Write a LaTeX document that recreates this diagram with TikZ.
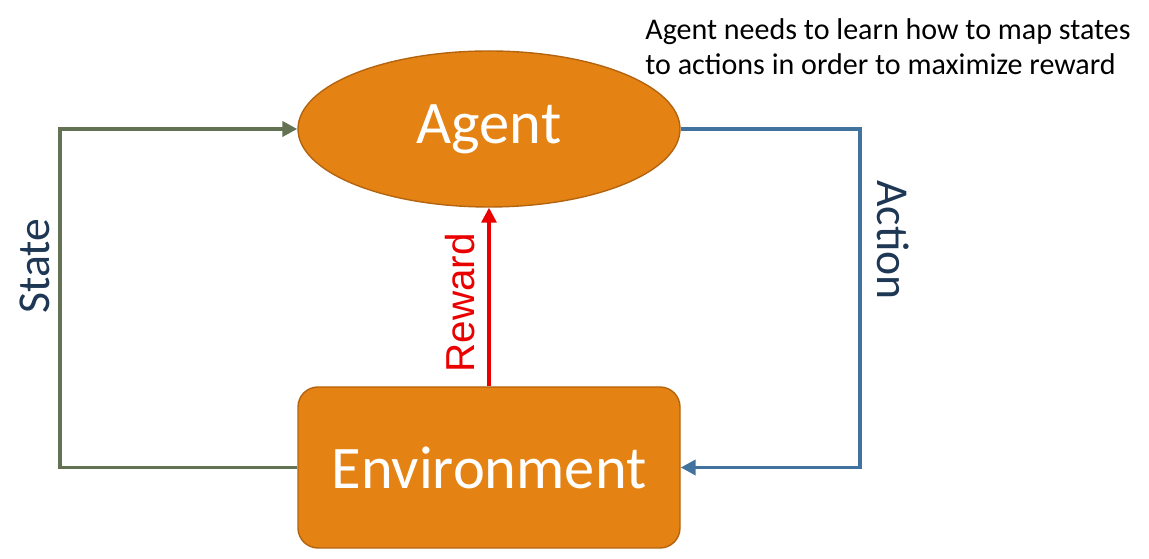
\documentclass[tikz,border=0pt]{standalone}
\usepackage{fontspec}
\setmainfont{Carlito}
\newfontfamily\arialfont{Liberation Sans}
\usepackage{xcolor}
\definecolor{boxorange}{RGB}{228,131,20}
\definecolor{edgeorange}{RGB}{180,100,15}
\definecolor{stategreen}{RGB}{99,114,82}
\definecolor{actionblue}{RGB}{66,114,158}
\definecolor{labelnavy}{RGB}{30,55,85}
\definecolor{rewardred}{RGB}{235,0,0}
\usetikzlibrary{shapes,arrows.meta,positioning,calc}

\begin{document}
\begin{tikzpicture}[
  bigtext/.style={font=\fontsize{34.4}{40}\selectfont, text=white},
  side/.style={font=\fontsize{26}{30}\selectfont, text=labelnavy},
  arr/.style={-{Triangle[length=0.3cm,width=0.3cm]}, line width=2.2pt}
]
\useasboundingbox (0,0) rectangle (22.98,11.18);

%% Agent and environment
\node[ellipse, draw=edgeorange, line width=0.8pt, fill=boxorange,
      minimum width=7.64cm, minimum height=3.12cm, bigtext] (agent) at (9.78,8.6) {Agent};
\node[rectangle, rounded corners=0.4cm, draw=edgeorange, line width=0.8pt, fill=boxorange,
      minimum width=7.64cm, minimum height=3.22cm, bigtext] (env) at (9.78,1.83) {Environment};

%% corner points of the loop
\coordinate (sbot) at (1.2,1.83);
\coordinate (abot) at (17.2,1.83);

%% state
\draw[arr, stategreen] (env.west) -- (sbot) |- (agent.west);
\node[side, rotate=90] (state) at (0.7,5.86) {State};

%% action
\draw[arr, actionblue] (agent.east) -| (abot) -- (env.east);
\node[side, rotate=-90] (action) at (17.86,6.38) {Action};

%% reward
\draw[arr, rewardred, line width=1.8pt] (env.north) -- (agent.south);
\node[rotate=90, text=rewardred, font=\arialfont\fontsize{23}{27}\selectfont] (reward) at (9.2,5.12) {Reward};

%% note
\node[anchor=north west, align=left, font=\fontsize{17.1}{20}\selectfont, inner sep=0pt] (note) at (12.9,10.82)
  {Agent needs to learn how to map states\\to actions in order to maximize reward};

\end{tikzpicture}
\end{document}
